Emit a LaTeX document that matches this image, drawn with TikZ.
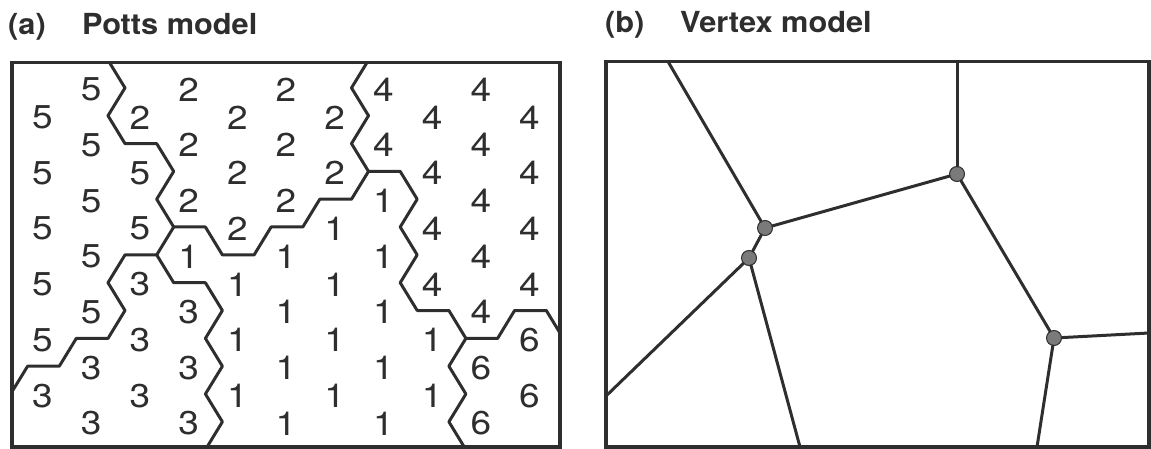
\documentclass[tikz,border=0pt]{standalone}
\usepackage{fontspec}
\setmainfont{TeX Gyre Heros}
\definecolor{ink}{HTML}{2E2E2E}
\definecolor{dotfill}{HTML}{7A7A7A}
\tikzset{
  wall/.style={draw=ink, line width=3pt, line join=round, line cap=round},
  panelframe/.style={draw=ink, line width=3.2pt},
  spin/.style={inner sep=0pt, text=ink, font=\fontsize{33}{33}\selectfont},
  paneltitle/.style={inner sep=0pt, anchor=base west, text=ink, font=\bfseries\fontsize{29}{29}\selectfont},
  vtx/.style={circle, draw=ink, fill=dotfill, line width=1pt, minimum size=15pt, inner sep=0pt},
}
\begin{document}
\begin{tikzpicture}[x=1pt,y=-1pt]
\useasboundingbox (0,0) rectangle (1151,449);
% titles
\node[paneltitle] (ta) at (8,35) {\scalebox{1.06}[1]{(a)}};
\node[paneltitle] (tna) at (82,35) {\scalebox{1.06}[1]{Potts model}};
\node[paneltitle] (tb) at (605,33) {\scalebox{1.06}[1]{(b)}};
\node[paneltitle] (tnb) at (680,33) {\scalebox{1.06}[1]{Vertex model}};
% ---------------- panel (a): Potts model
\foreach \c/\L in {1/{5,5,5,5,5,3}, 2/{5,5,5,5,5,3,3}, 3/{2,5,5,3,3,3}, 4/{2,2,2,1,3,3,3}, 5/{2,2,2,1,1,1}, 6/{2,2,2,1,1,1,1}, 7/{2,2,1,1,1,1}, 8/{4,4,1,1,1,1,1}, 9/{4,4,4,4,1,1}, 10/{4,4,4,4,4,6,6}, 11/{4,4,4,4,6,6}}{
  \foreach \d [count=\j] in \L {
    \pgfmathsetmacro{\m}{ifthenelse(isodd(\c),2,1)+2*(\j-1)}
    \node[spin] (s-\c-\j) at ({42.5+48.7*(\c-1)},{256.5+27.83*(\m-7)}) {\scalebox{1.12}[1]{\d}};
  }
}
\begin{scope}
\clip (12,62.5) rectangle (560,447);
\coordinate (J1) at (173.7,227.0);
\coordinate (J2) at (156.7,254.9);
\coordinate (J3) at (368.5,171.4);
\coordinate (J4) at (465.9,338.4);
% 5|2
\draw[wall] (108,60.1) -- (125,87.9) -- (108,115.7) -- (125,143.6) -- (156.7,143.6) -- (173.7,171.4) -- (156.7,199.2) -- (J1);
% 5|1
\draw[wall] (J1) -- (J2);
% 1|2
\draw[wall] (J1) -- (205.4,227) -- (222.4,254.9) -- (254.1,254.9) -- (271.1,227) -- (302.8,227) -- (319.8,199.2) -- (351.5,199.2) -- (J3);
% 5|3
\draw[wall] (J2) -- (125,254.9) -- (108,282.7) -- (125,310.5) -- (108,338.4) -- (76.3,338.4) -- (59.3,366.2) -- (27.6,366.2) -- (10.6,394.0);
% 1|3
\draw[wall] (J2) -- (173.7,282.7) -- (205.4,282.7) -- (222.4,310.5) -- (205.4,338.4) -- (222.4,366.2) -- (205.4,394.0) -- (222.4,421.8) -- (205.4,449.7);
% 2|4
\draw[wall] (J3) -- (351.5,143.6) -- (368.5,115.7) -- (351.5,87.9) -- (368.5,60.1);
% 1|4
\draw[wall] (J3) -- (400.2,171.4) -- (417.2,199.2) -- (400.2,227) -- (417.2,254.9) -- (400.2,282.7) -- (417.2,310.5) -- (448.9,310.5) -- (J4);
% 4|6
\draw[wall] (J4) -- (497.6,338.4) -- (514.6,310.5) -- (546.3,310.5) -- (563.3,338.4);
% 1|6
\draw[wall] (J4) -- (448.9,366.2) -- (465.9,394.0) -- (448.9,421.8) -- (465.9,449.7);
\end{scope}
\draw[panelframe] (12,62.5) rectangle (560,447);
% ---------------- panel (b): Vertex model
\draw[panelframe] (606,61.5) rectangle (1149,447);
\node[vtx] (V1) at (765,228) {};
\node[vtx] (V2) at (749,258) {};
\node[vtx] (V3) at (957,174) {};
\node[vtx] (V4) at (1054,338) {};
\coordinate (T1) at (668,61.5);
\coordinate (T2) at (957,61.5);
\coordinate (L) at (606,396);
\coordinate (B1) at (800,447);
\coordinate (B2) at (1037,447);
\coordinate (R) at (1149,333);
\draw[wall] (T1) -- (V1);
\draw[wall] (V1) -- (V3);
\draw[wall] (V1) -- (V2);
\draw[wall] (V2) -- (L);
\draw[wall] (V2) -- (B1);
\draw[wall] (T2) -- (V3);
\draw[wall] (V3) -- (V4);
\draw[wall] (V4) -- (R);
\draw[wall] (V4) -- (B2);
\end{tikzpicture}
\end{document}
